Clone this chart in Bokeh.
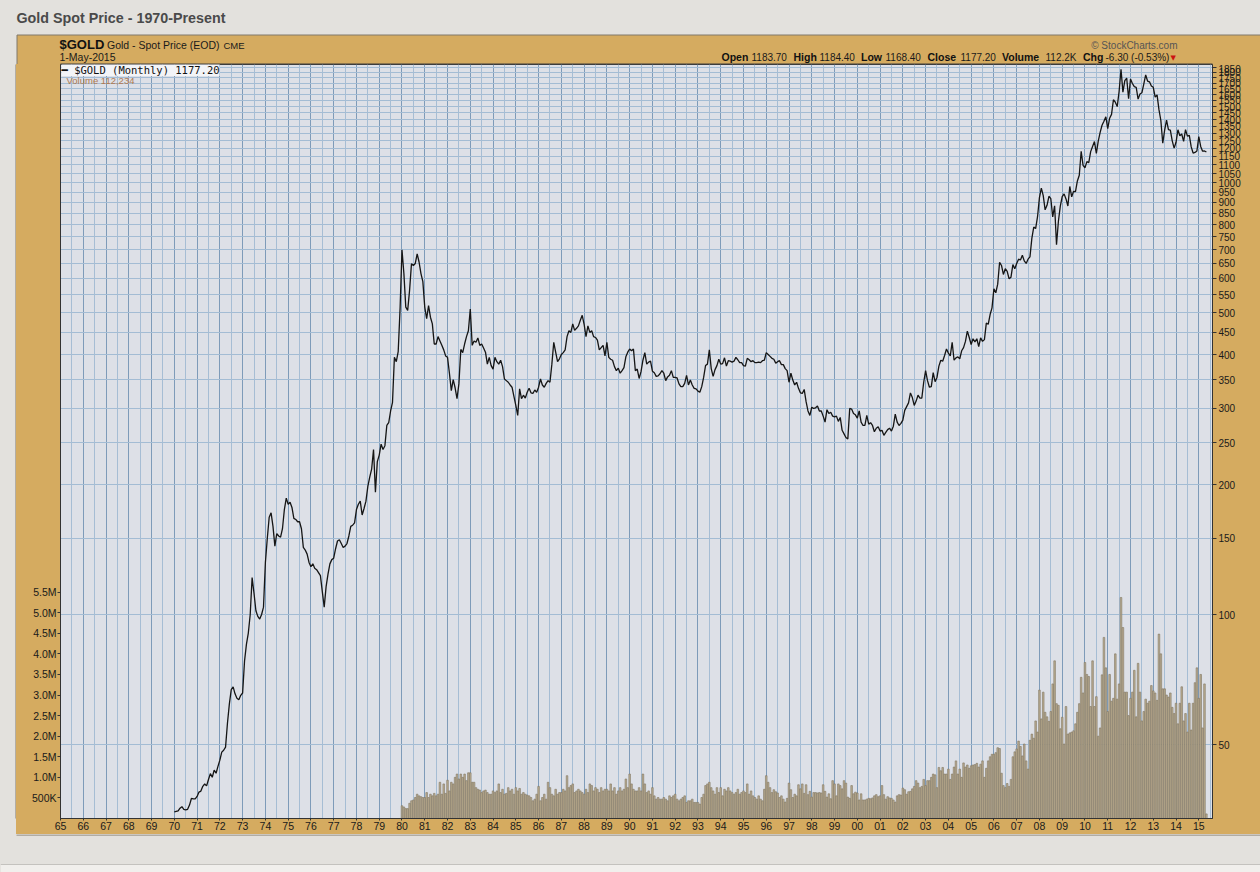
import math
from bokeh.plotting import figure
from bokeh.layouts import column, row
from bokeh.models import (Range1d, LinearAxis, FixedTicker, Grid, Label,
                          LinearScale, ColumnDataSource)
from bokeh.embed import file_html
from bokeh.resources import INLINE

# ---------------- data ----------------
chart_title = "Gold Spot Price - 1970-Present"
symbol_text = "$GOLD"
symbol_desc = "Gold - Spot Price (EOD)"
exchange_text = "CME"
date_text = "1-May-2015"
legend_price = "\u2501 $GOLD (Monthly) 1177.20"
legend_volume = "Volume 112,234"
credit_text = "\u00a9 StockCharts.com"
quote_names = ["Open", "High", "Low", "Close", "Volume", "Chg"]
quote_values = ["1183.70", "1184.40", "1168.40", "1177.20", "112.2K", "-6.30 (-0.53%)"]

# monthly closes, one row per year (Jan..Dec)
close_1970s = [
    34.9, 35.0, 35.1, 35.6, 35.9, 35.4, 35.3, 35.4, 36.2, 37.5, 37.4, 37.4,
    37.9, 38.8, 39.0, 40.0, 40.5, 40.1, 41.5, 42.8, 42.0, 43.6, 42.9, 44.5,
    46.0, 48.0, 48.5, 49.3, 56.0, 62.0, 67.0, 68.0, 65.5, 64.0, 63.5, 65.0,
    65.8, 78.0, 85.3, 90.6, 100.0, 121.8, 112.0, 102.0, 99.0, 97.6, 100.0, 104.0,
    132, 150, 168, 172, 160, 144, 154, 152, 151, 158, 175, 186,
    180, 182, 177, 167, 166, 164, 164, 158, 143, 141, 138, 132,
    129, 131, 128, 127, 125, 123, 113, 104, 116, 124, 131, 134,
    135, 142, 148, 149, 146, 143, 144, 146, 152, 160, 161, 163,
    175, 180, 183, 170, 176, 183, 198, 208, 217, 241, 192, 226,
    234, 248, 241, 246, 274, 278, 296, 310, 394, 385, 406, 512,
]
close_1980s = [
    699, 616, 515, 506, 563, 649, 643, 650, 684, 655, 616, 590,
    515, 484, 519, 488, 471, 423, 423, 440, 430, 420, 410, 397,
    394, 362, 330, 350, 335, 316, 342, 411, 404, 423, 440, 454,
    510, 420, 430, 427, 437, 420, 423, 414, 405, 380, 394, 377,
    370, 394, 385, 380, 388, 375, 351, 348, 345, 340, 336, 320,
    305, 289, 333, 316, 322, 317, 327, 334, 326, 325, 331, 327,
    336, 351, 340, 336, 343, 348, 345, 380, 427, 405, 385, 391,
    400, 404, 410, 440, 454, 450, 471, 455, 460, 466, 480, 493,
    470, 440, 466, 450, 454, 440, 438, 432, 410, 415, 420, 397,
    427, 394, 390, 388, 375, 367, 372, 362, 367, 373, 395, 405,
]
close_1990s = [
    412, 408, 412, 367, 370, 352, 365, 388, 404, 380, 384, 386,
    366, 363, 356, 357, 361, 367, 362, 348, 355, 358, 367, 354,
    354, 353, 342, 337, 337, 343, 358, 340, 349, 340, 334, 333,
    329, 327, 337, 354, 377, 380, 410, 371, 356, 369, 377, 390,
    380, 381, 393, 376, 387, 386, 384, 386, 394, 389, 383, 383,
    377, 376, 392, 389, 385, 387, 383, 383, 384, 383, 387, 388,
    404, 400, 396, 392, 390, 382, 385, 387, 379, 379, 371, 367,
    345, 362, 349, 340, 345, 334, 326, 325, 332, 311, 296, 289,
    302, 300, 301, 304, 296, 296, 288, 279, 298, 292, 294, 288,
    287, 288, 280, 286, 267, 262, 257, 255, 300, 299, 292, 290,
]
close_2000s = [
    285, 296, 279, 274, 274, 289, 276, 278, 274, 265, 270, 272,
    266, 267, 260, 264, 268, 270, 266, 273, 291, 279, 274, 277,
    282, 297, 303, 309, 326, 318, 305, 312, 322, 317, 317, 345,
    367, 348, 336, 337, 363, 346, 354, 376, 388, 386, 398, 412,
    403, 397, 427, 388, 393, 395, 391, 408, 415, 429, 453, 438,
    422, 435, 428, 435, 417, 437, 429, 433, 473, 470, 495, 513,
    568, 556, 582, 654, 643, 613, 632, 623, 599, 604, 646, 632,
    650, 665, 662, 679, 659, 650, 665, 673, 743, 789, 783, 834,
    923, 971, 933, 865, 886, 930, 918, 833, 884, 718, 814, 882,
    928, 942, 917, 883, 980, 927, 955, 953, 1009, 1040, 1182, 1097,
]
close_2010s = [
    1082, 1119, 1113, 1180, 1213, 1245, 1169, 1248, 1308, 1358, 1387, 1421,
    1333, 1410, 1439, 1556, 1536, 1500, 1628, 1829, 1620, 1722, 1746, 1564,
    1738, 1697, 1669, 1663, 1561, 1604, 1615, 1691, 1776, 1719, 1712, 1675,
    1663, 1578, 1597, 1476, 1393, 1234, 1323, 1396, 1327, 1324, 1250, 1202,
    1240, 1326, 1284, 1296, 1246, 1327, 1282, 1287, 1210, 1171, 1175, 1184,
    1279, 1213, 1183, 1184, 1177.2,
]

# monthly volume in millions, one row per year (Jan..Dec)
volume_1980s = [
    0.31, 0.28, 0.24, 0.24, 0.37, 0.43, 0.45, 0.51, 0.59, 0.55, 0.53, 0.51,
    0.51, 0.63, 0.51, 0.59, 0.55, 0.61, 0.55, 0.59, 0.88, 0.59, 0.84, 0.61,
    0.93, 0.67, 0.88, 0.84, 1.00, 1.08, 0.96, 1.08, 1.00, 1.08, 0.92, 1.11,
    1.11, 0.88, 0.88, 0.75, 0.71, 0.69, 0.63, 0.67, 0.69, 0.63, 0.59, 0.59,
    0.67, 0.63, 0.67, 0.84, 0.63, 0.71, 0.59, 0.61, 0.75, 0.67, 0.71, 0.59,
    0.75, 0.67, 0.73, 0.59, 0.63, 0.59, 0.57, 0.55, 0.51, 0.43, 0.47, 0.59,
    0.78, 0.43, 0.51, 0.59, 0.47, 0.88, 0.75, 0.59, 0.55, 0.71, 0.59, 0.63,
    0.63, 0.71, 0.67, 1.04, 0.75, 0.80, 0.84, 0.63, 0.67, 0.71, 0.67, 0.63,
    0.59, 0.71, 0.63, 0.84, 0.80, 0.67, 0.75, 0.71, 0.63, 0.75, 0.67, 0.71,
    0.71, 0.67, 0.84, 0.67, 0.75, 0.59, 0.67, 0.75, 0.67, 0.71, 0.96, 0.75,
]
volume_1990s = [
    1.08, 0.84, 0.71, 0.67, 0.67, 0.75, 0.67, 1.08, 0.84, 0.63, 0.67, 0.59,
    0.75, 0.55, 0.47, 0.51, 0.47, 0.47, 0.51, 0.47, 0.43, 0.55, 0.51, 0.55,
    0.59, 0.47, 0.43, 0.47, 0.51, 0.55, 0.39, 0.43, 0.43, 0.47, 0.39, 0.39,
    0.39, 0.35, 0.51, 0.59, 0.80, 0.84, 0.88, 0.75, 0.67, 0.59, 0.75, 0.63,
    0.75, 0.55, 0.71, 0.67, 0.75, 0.67, 0.63, 0.59, 0.63, 0.71, 0.59, 0.63,
    0.67, 0.63, 0.84, 0.59, 0.67, 0.55, 0.51, 0.47, 0.55, 0.47, 0.43, 0.71,
    1.04, 0.88, 0.75, 0.63, 0.70, 0.65, 0.62, 0.51, 0.55, 0.47, 0.40, 0.49,
    0.86, 0.70, 0.51, 0.59, 0.55, 0.82, 0.72, 0.84, 0.61, 0.82, 0.58, 0.66,
    0.52, 0.63, 0.63, 0.62, 0.63, 0.62, 0.82, 0.66, 0.52, 0.60, 0.48, 0.92,
    0.84, 0.55, 0.84, 0.80, 0.72, 0.92, 0.86, 0.52, 0.49, 0.80, 0.60, 0.64,
]
volume_2000s = [
    0.62, 0.45, 0.60, 0.45, 0.45, 0.47, 0.49, 0.48, 0.50, 0.55, 0.58, 0.53,
    0.55, 0.80, 0.58, 0.47, 0.53, 0.50, 0.49, 0.45, 0.40, 0.55, 0.58, 0.57,
    0.74, 0.70, 0.59, 0.65, 0.66, 0.72, 0.78, 0.92, 0.86, 0.75, 0.78, 0.95,
    0.80, 0.92, 0.92, 1.00, 1.08, 1.06, 0.75, 1.24, 1.16, 1.24, 1.08, 1.08,
    1.20, 0.95, 1.08, 1.25, 1.40, 1.08, 1.20, 1.00, 1.35, 1.25, 1.30, 1.22,
    1.28, 1.30, 1.31, 1.34, 1.25, 1.32, 1.40, 1.00, 1.22, 1.40, 1.50, 1.56,
    1.56, 1.60, 1.72, 1.70, 1.10, 0.80, 0.75, 0.85, 0.78, 0.95, 1.50, 1.62,
    1.69, 1.88, 1.75, 1.52, 1.81, 1.40, 1.20, 1.90, 2.05, 1.95, 2.37, 2.10,
    3.12, 2.42, 3.07, 2.58, 2.47, 2.36, 2.60, 3.27, 3.83, 2.79, 2.75, 2.18,
    2.46, 1.81, 2.72, 2.05, 2.08, 2.10, 2.13, 2.30, 2.58, 2.79, 3.43, 3.05,
]
volume_2010s = [
    3.79, 3.50, 3.45, 2.72, 3.83, 2.72, 2.96, 2.00, 2.20, 3.49, 4.40, 3.66,
    2.60, 3.50, 2.85, 2.92, 4.00, 2.90, 3.27, 5.37, 4.64, 3.07, 3.07, 2.50,
    2.92, 3.07, 3.60, 2.47, 3.77, 3.07, 2.37, 2.60, 2.90, 2.80, 2.85, 3.23,
    3.10, 3.05, 2.87, 4.48, 4.00, 3.15, 3.15, 3.00, 2.95, 3.05, 2.70, 2.55,
    2.80, 2.30, 2.80, 3.20, 2.37, 2.55, 2.10, 2.80, 2.15, 2.80, 3.30, 3.66,
    2.92, 3.50, 2.20, 3.27, 0.112234,
]

price_start_year = 1970
volume_start_year = 1980
axis_years = list(range(1965, 2016))
year_labels = ["65", "66", "67", "68", "69", "70", "71", "72", "73", "74",
               "75", "76", "77", "78", "79", "80", "81", "82", "83", "84",
               "85", "86", "87", "88", "89", "90", "91", "92", "93", "94",
               "95", "96", "97", "98", "99", "00", "01", "02", "03", "04",
               "05", "06", "07", "08", "09", "10", "11", "12", "13", "14", "15"]
price_ticks = [50, 100, 150, 200, 250, 300, 350, 400, 450, 500, 550, 600,
               650, 700, 750, 800, 850, 900, 950, 1000, 1050, 1100, 1150,
               1200, 1250, 1300, 1350, 1400, 1450, 1500, 1550, 1600, 1650,
               1700, 1750, 1800, 1850]
volume_ticks = [500000, 1000000, 1500000, 2000000, 2500000, 3000000,
                3500000, 4000000, 4500000, 5000000, 5500000]
volume_tick_labels = ["500K", "1.0M", "1.5M", "2.0M", "2.5M", "3.0M",
                      "3.5M", "4.0M", "4.5M", "5.0M", "5.5M"]

# ---------------- build ----------------
closes = close_1970s + close_1980s + close_1990s + close_2000s + close_2010s
price_dates = [price_start_year + i / 12.0 for i in range(len(closes))]
volumes = [v * 1e6 for v in volume_1980s + volume_1990s + volume_2000s + volume_2010s]
volume_dates = [volume_start_year + i / 12.0 for i in range(len(volumes))]

PAGE = "#e3e1dd"
GOLD = "#d5ab60"
PLOT_BG = "#dde0e7"
FONT = "Liberation Sans"
EDGE = "#80786b"
FRAME_LINE = "#3c3c3c"

TOTAL_W, TOTAL_H = 1260, 872
TITLE_H = 34          # grey title strip
LEFT_W = 16           # grey strip left of gold panel
TOP_H = 64            # title strip + gold header strip (page y 0..64)
MAIN_BOTTOM = 834
BL, BR, BT, BB = 44, 48, 0, 16     # borders of main figure (frame page x 60..1212, y 64..818)
MAIN_W = TOTAL_W - LEFT_W
MAIN_H = MAIN_BOTTOM - TOP_H
FW, FH = MAIN_W - BL - BR, MAIN_H - BT - BB
FRAME_L, FRAME_T = LEFT_W + BL, TOP_H + BT
X0, X1 = 1965.0, 1965.0 + FW / 22.766
Y0, Y1 = 33.70, 1877.6
VMAX = FH / 41.16 * 1e6


def blank(w, h, x_range, y_range, bg):
    f = figure(width=w, height=h, x_range=x_range, y_range=y_range,
               output_backend="svg", toolbar_location=None, title=None,
               x_axis_location=None, y_axis_location=None,
               min_border=0, min_border_left=0, min_border_right=0,
               min_border_top=0, min_border_bottom=0)
    f.grid.visible = False
    f.background_fill_color = bg
    f.border_fill_color = bg
    f.outline_line_color = None
    return f


def text(fig, txt, x, y, size, bold=False, color="#111111", font=FONT, align="left", bg=None):
    kw = {}
    if bg is not None:
        kw = dict(background_fill_color=bg, background_fill_alpha=1.0)
    fig.add_layout(Label(x=x, y=y, text=txt, text_font=font,
                         text_font_size=f"{size}px",
                         text_font_style="bold" if bold else "normal",
                         text_color=color, text_align=align,
                         text_baseline="middle", **kw))


# --- top strip: grey title bar + gold header (page coordinates as ranges) ---
top_fig = blank(TOTAL_W, TOP_H, Range1d(0, TOTAL_W), Range1d(TOP_H, 0), PAGE)
top_fig.quad(left=[LEFT_W + 0.5], right=[TOTAL_W + 2], top=[TITLE_H + 0.5], bottom=[TOP_H + 3],
             fill_color=GOLD, line_color=EDGE, line_width=1)
top_fig.segment(x0=[FRAME_L], y0=[TOP_H - 0.5], x1=[FRAME_L + FW], y1=[TOP_H - 0.5],
                line_color=FRAME_LINE, line_width=1)
text(top_fig, chart_title, 16, 17, 14.3, bold=True, color="#4a4a4a")
text(top_fig, symbol_text, 59, 44, 13, bold=True, color="#111111")
text(top_fig, symbol_desc, 106.5, 44.5, 10.5, color="#1a1a1a")
text(top_fig, exchange_text, 223, 45, 9.5, color="#1a1a1a")
text(top_fig, date_text, 59, 56.5, 10.5, color="#1a1a1a")
text(top_fig, credit_text, 1177, 44.5, 10, color="#555555", align="right")
name_x = [721, 793, 860.5, 927, 1001.5, 1082.5]
value_x = [751, 819, 885, 960, 1045, 1105]
for nm, nx, vv, vx in zip(quote_names, name_x, quote_values, value_x):
    text(top_fig, nm, nx, 56.5, 10.5, bold=True, color="#111111")
    text(top_fig, vv, vx, 56.5, 10, color="#1a1a1a")
text(top_fig, "\u25bc", 1170, 57, 7, color="#cc1111", font="DejaVu Sans")

# --- left grey strip ---
left_fig = blank(LEFT_W, MAIN_H, Range1d(0, LEFT_W), Range1d(MAIN_BOTTOM, TOP_H), PAGE)
left_fig.segment(x0=[LEFT_W - 0.5], y0=[TOP_H - 5], x1=[LEFT_W - 0.5], y1=[MAIN_BOTTOM + 5],
                 line_color=EDGE, line_width=1)

# --- main chart ---
p = figure(width=MAIN_W, height=MAIN_H, x_range=Range1d(X0, X1), y_range=Range1d(Y0, Y1),
           y_axis_type="log", y_axis_location="right", output_backend="svg",
           toolbar_location=None, title=None,
           min_border_left=BL, min_border_right=BR, min_border_top=BT,
           min_border_bottom=BB)
p.extra_y_ranges = {"vol": Range1d(0, VMAX)}
p.extra_y_scales = {"vol": LinearScale()}
p.background_fill_color = PLOT_BG
p.border_fill_color = GOLD
p.outline_line_color = FRAME_LINE
p.outline_line_width = 1

p.xgrid.ticker = FixedTicker(ticks=axis_years)
p.xgrid.grid_line_color = "#7e9bb9"
p.xgrid.grid_line_width = 1
half_years = [y + 0.5 for y in axis_years]
p.add_layout(Grid(dimension=0, ticker=FixedTicker(ticks=half_years),
                  grid_line_color="#a6bdd4", grid_line_width=1))
p.ygrid.ticker = FixedTicker(ticks=price_ticks)
p.ygrid.grid_line_color = "#a3bcd4"
p.ygrid.grid_line_width = 1

vsrc = ColumnDataSource(dict(x=volume_dates, top=volumes))
p.vbar(x="x", top="top", bottom=0, width=0.85 / 12, source=vsrc, y_range_name="vol",
       fill_color="#bbad91", line_color="#7f7562", line_width=0.6)
psrc = ColumnDataSource(dict(x=price_dates, y=closes))
p.line(x="x", y="y", source=psrc, line_color="#151515", line_width=1.3)

xa = p.xaxis[0]
xa.ticker = FixedTicker(ticks=axis_years)
xa.major_label_overrides = {y: s for y, s in zip(axis_years, year_labels)}
xa.major_tick_out = 2
xa.major_tick_in = 0
xa.minor_tick_out = 0
xa.major_label_standoff = 1
xa.axis_line_color = "#333333"
xa.major_tick_line_color = "#333333"
xa.major_label_text_font = FONT
xa.major_label_text_font_size = "10.5px"
xa.major_label_text_color = "#1a1a1a"

ya = p.yaxis[0]
ya.ticker = FixedTicker(ticks=price_ticks)
ya.major_label_overrides = {t: str(t) for t in price_ticks}
ya.major_tick_out = 4
ya.major_tick_in = 0
ya.minor_tick_out = 0
ya.major_label_standoff = 2
ya.axis_line_color = "#333333"
ya.major_tick_line_color = "#333333"
ya.major_label_text_font = FONT
ya.major_label_text_font_size = "10px"
ya.major_label_text_color = "#1a1a1a"

va = LinearAxis(y_range_name="vol", ticker=FixedTicker(ticks=volume_ticks))
va.major_label_overrides = {t: s for t, s in zip(volume_ticks, volume_tick_labels)}
va.major_tick_out = 3
va.major_tick_in = 0
va.minor_tick_out = 0
va.major_label_standoff = 1
va.axis_line_color = "#333333"
va.major_tick_line_color = "#333333"
va.major_label_text_font = FONT
va.major_label_text_font_size = "10.5px"
va.major_label_text_color = "#1a1a1a"
p.add_layout(va, "left")


def px_x(page_x):
    return X0 + (page_x - FRAME_L) / FW * (X1 - X0)


def py_y(page_y):
    l0, l1 = math.log10(Y0), math.log10(Y1)
    return 10 ** (l1 - (page_y - FRAME_T) / FH * (l1 - l0))


text(p, legend_price, px_x(61), py_y(69.5), 10.5, color="#111111",
     font="DejaVu Sans Mono", bg="#f3f4f7")
text(p, legend_volume, px_x(66), py_y(80), 9.5, color="#b07a50")

# --- bottom grey strip ---
bot_fig = blank(TOTAL_W, TOTAL_H - MAIN_BOTTOM, Range1d(0, TOTAL_W),
                Range1d(TOTAL_H, MAIN_BOTTOM), PAGE)
bot_fig.segment(x0=[LEFT_W], y0=[MAIN_BOTTOM + 0.5], x1=[TOTAL_W], y1=[MAIN_BOTTOM + 0.5],
                line_color=EDGE, line_width=1)
bot_fig.quad(left=[0], right=[TOTAL_W], top=[864], bottom=[TOTAL_H],
             fill_color="#f1efec", line_color=None)
bot_fig.segment(x0=[0], y0=[864], x1=[TOTAL_W], y1=[864],
                line_color="#c4c2be", line_width=1)

row_bg = (f"linear-gradient(to right, {PAGE} 0px, {PAGE} {LEFT_W}px, "
          f"{GOLD} {LEFT_W}px, {GOLD} 100%)")
main_row = row(left_fig, p, spacing=0, styles={"background": row_bg})
layout = column(top_fig, main_row, bot_fig, spacing=0,
                styles={"background-color": PAGE})
open("out.html", "w").write(file_html(layout, INLINE))
